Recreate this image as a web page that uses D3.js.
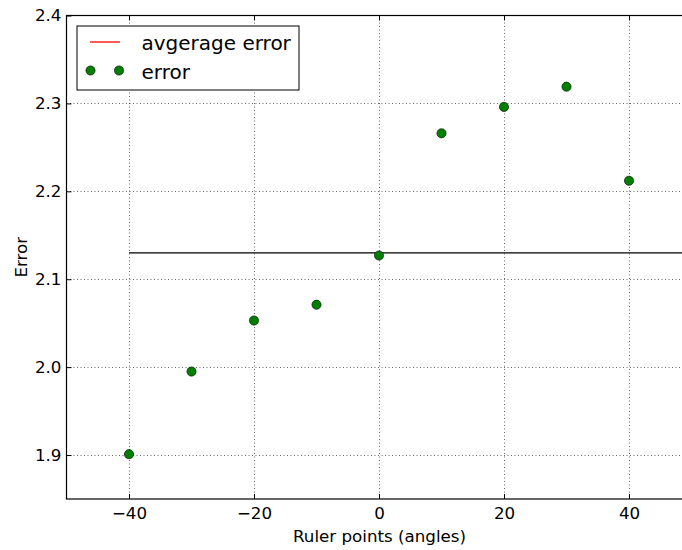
<!DOCTYPE html>
<html><head><meta charset="utf-8">
<script src="https://cdn.jsdelivr.net/npm/d3@7"></script>
<style>body{margin:0;background:#fff}svg{display:block}text{font-family:"DejaVu Sans",sans-serif;fill:#000}</style>
</head><body>
<script>
const angles = [-40, -30, -20, -10, 0, 10, 20, 30, 40];
const errors = [1.901, 1.995, 2.053, 2.071, 2.127, 2.266, 2.296, 2.319, 2.212];
const avgError = 2.130;
const avgRange = [-40, 50];
const xTicks = [-40, -20, 0, 20, 40];
const yTicks = [1.9, 2.0, 2.1, 2.2, 2.3, 2.4];
const legendLabels = ["avgerage error", "error"];

const W = 682, H = 550;
const m = {left: 66.5, top: 15.5, right: 691.5, bottom: 499};
const svg = d3.select("body").append("svg").attr("width", W).attr("height", H);
const x = d3.scaleLinear().domain([-50, 50]).range([m.left, m.right]);
const y = d3.scaleLinear().domain([1.85, 2.4]).range([m.bottom, m.top]);
const fs = 16.7;

// grid
const g = svg.append("g");
g.selectAll(".vx").data(xTicks).join("line")
  .attr("x1", d => Math.round(x(d)) + 0.5).attr("x2", d => Math.round(x(d)) + 0.5)
  .attr("y1", m.top).attr("y2", m.bottom)
  .attr("stroke", "#000").attr("stroke-width", 0.6).attr("stroke-dasharray", "1,2.5");
g.selectAll(".hy").data(yTicks.slice(0, -1)).join("line")
  .attr("y1", d => Math.round(y(d)) + 0.5).attr("y2", d => Math.round(y(d)) + 0.5)
  .attr("x1", m.left).attr("x2", m.right)
  .attr("stroke", "#000").attr("stroke-width", 0.6).attr("stroke-dasharray", "1,2.5");

// average line
svg.append("line")
  .attr("x1", x(avgRange[0])).attr("x2", x(avgRange[1]))
  .attr("y1", y(avgError)).attr("y2", y(avgError))
  .attr("stroke", "#000").attr("stroke-width", 1.3);

// points
svg.selectAll(".pt").data(angles).join("circle")
  .attr("cx", (d) => x(d)).attr("cy", (d, i) => y(errors[i]))
  .attr("r", 4.6).attr("fill", "#008000").attr("stroke", "#000").attr("stroke-width", 0.6);

// frame
svg.append("rect").attr("x", m.left).attr("y", m.top)
  .attr("width", m.right - m.left).attr("height", m.bottom - m.top)
  .attr("fill", "none").attr("stroke", "#000").attr("stroke-width", 1.2);

// axes (ticks inward)
const xa = d3.axisBottom(x).tickValues(xTicks).tickSize(-5).tickPadding(8)
  .tickFormat(d => d < 0 ? "\u2212" + Math.abs(d) : d);
const xg = svg.append("g").attr("transform", `translate(0,${m.bottom})`).call(xa);
xg.select(".domain").remove();
xg.selectAll("text").attr("font-size", fs).attr("font-family", "DejaVu Sans").attr("dy", "0.71em");
const xt = svg.append("g").attr("transform", `translate(0,${m.top})`)
  .call(d3.axisTop(x).tickValues(xTicks).tickSize(-5).tickFormat(""));
xt.select(".domain").remove();

const ya = d3.axisLeft(y).tickValues(yTicks).tickSize(-5).tickPadding(5).tickFormat(d3.format(".1f"));
const yg = svg.append("g").attr("transform", `translate(${m.left},0)`).call(ya);
yg.select(".domain").remove();
yg.selectAll("text").attr("font-size", fs).attr("font-family", "DejaVu Sans");

svg.append("text").attr("x", 379.5).attr("y", 541.5)
  .attr("text-anchor", "middle").attr("font-size", fs).text("Ruler points (angles)");
svg.append("text").attr("transform", `translate(26.5,${(m.top + m.bottom) / 2}) rotate(-90)`)
  .attr("text-anchor", "middle").attr("font-size", fs).text("Error");

// legend
const lg = svg.append("g");
lg.append("rect").attr("x", 77).attr("y", 26).attr("width", 222).attr("height", 64)
  .attr("fill", "#fff").attr("stroke", "#000").attr("stroke-width", 1);
lg.append("line").attr("x1", 90).attr("x2", 120).attr("y1", 42).attr("y2", 42)
  .attr("stroke", "#ff0000").attr("stroke-width", 1.3);
lg.selectAll(".lm").data([90.5, 119]).join("circle")
  .attr("cx", d => d).attr("cy", 70.5).attr("r", 4.6)
  .attr("fill", "#008000").attr("stroke", "#000").attr("stroke-width", 0.6);
lg.selectAll(".lt").data(legendLabels).join("text")
  .attr("x", 141.5).attr("y", (d, i) => 49.5 + i * 29)
  .attr("font-size", 20).text(d => d);
</script>
</body></html>
